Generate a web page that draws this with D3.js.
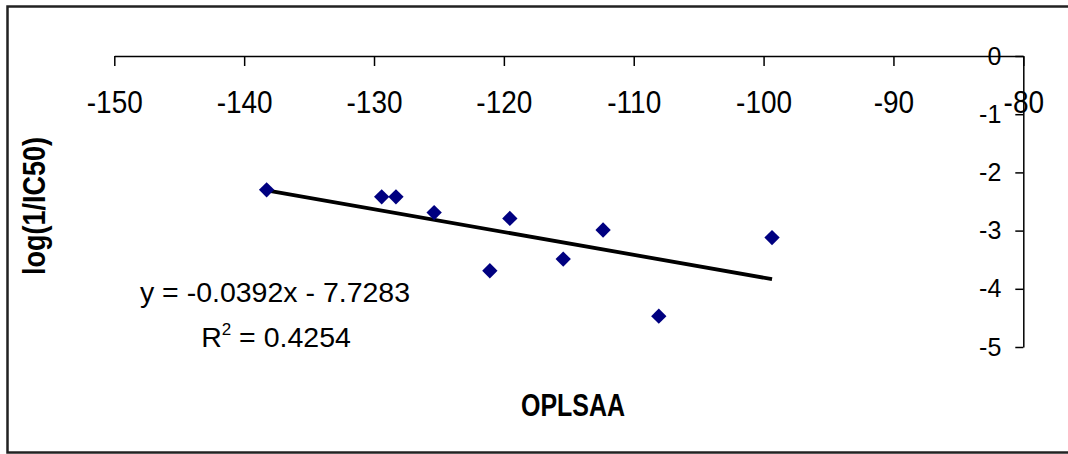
<!DOCTYPE html>
<html>
<head>
<meta charset="utf-8">
<script src="https://cdn.jsdelivr.net/npm/d3@7"></script>
<style>
  body { margin: 0; background: #fff; }
  svg { display: block; }
  text { font-family: "Liberation Sans", Arial, sans-serif; fill: #000; }
</style>
</head>
<body>
<div class="container"></div>
<script>
// OPLSAA vs log(1/IC50), linear trend

var width = 1068;
var height = 454;

var opls = [-138.27, -129.41, -128.31, -125.37, -121.08, -119.54, -115.43, -112.36, -108.07, -99.35];
var logIC50 = [-2.30, -2.42, -2.42, -2.69, -3.69, -2.79, -3.49, -2.99, -4.47, -3.12];
var xTicks = [-150, -140, -130, -120, -110, -100, -90, -80];
var yTicks = [0, -1, -2, -3, -4, -5];
var slope = -0.0392;
var intercept = -7.7283;
var eqLabel = 'y = -0.0392x - 7.7283';
var r2Value = '0.4254';

var translate = function(x, y) {
    return 'translate(' + x + ',' + y + ')';
};

// plain hyphen minus, like the original
var fmt = function(d) { return String(d); };

var draw = function() {
    var svg = d3.select('.container').append('svg')
        .attr('width', width)
        .attr('height', height);

    // outer chart frame (right edge runs off the page)
    svg.append('rect')
        .attr('x', 7.5).attr('y', 6.5)
        .attr('width', 1080).attr('height', 446)
        .attr('fill', 'none')
        .attr('stroke', '#222')
        .attr('stroke-width', 2.5);

    var x = d3.scaleLinear().domain([-150, -80]).range([114.3, 1023.3]);
    var y = d3.scaleLinear().domain([0, -5]).range([56, 347]);

    var xAxis = svg.append('g')
        .attr('transform', translate(0, y(0)))
        .call(d3.axisBottom(x).tickValues(xTicks).tickFormat(fmt)
            .tickSize(10).tickSizeOuter(0).tickPadding(22));
    xAxis.selectAll('text')
        .style('font-size', '28px')
        .attr('dy', '0.71em')
        .attr('transform', 'scale(1,1.1)');

    var yAxis = svg.append('g')
        .attr('transform', translate(x(-80), 0))
        .call(d3.axisLeft(y).tickValues(yTicks).tickFormat(fmt)
            .tickSize(8).tickSizeOuter(0).tickPadding(14));
    yAxis.selectAll('text')
        .style('font-size', '25px');

    svg.selectAll('.domain, .tick line')
        .attr('stroke', '#000')
        .attr('stroke-width', 1.5);

    // trend line across the data range
    var xExt = d3.extent(opls);
    var trend = xExt.map(function(v) { return [v, slope * v + intercept]; });
    svg.append('path')
        .datum(trend)
        .attr('d', d3.line().x(function(d) { return x(d[0]); }).y(function(d) { return y(d[1]); }))
        .attr('stroke', '#000')
        .attr('stroke-width', 3.8)
        .attr('fill', 'none');

    var sym = d3.symbol().type(d3.symbolDiamond2).size(150);
    svg.selectAll('.pt')
        .data(opls)
        .enter()
        .append('path')
        .attr('class', 'pt')
        .attr('d', sym)
        .attr('transform', function(d, i) { return translate(x(d), y(logIC50[i])); })
        .attr('fill', '#000080');

    svg.append('text')
        .attr('x', 275).attr('y', 302)
        .attr('text-anchor', 'middle')
        .style('font-size', '28.5px')
        .text(eqLabel);

    var r2 = svg.append('text')
        .attr('x', 276).attr('y', 347)
        .attr('text-anchor', 'middle')
        .style('font-size', '28.5px');
    r2.append('tspan').text('R');
    r2.append('tspan').attr('dy', -12).style('font-size', '17px').text('2');
    r2.append('tspan').attr('dy', 12).text(' = ' + r2Value);

    svg.append('text')
        .attr('transform', translate(573, 416) + ' scale(1,1.25)')
        .attr('text-anchor', 'middle')
        .style('font-size', '25px')
        .style('font-weight', 'bold')
        .text('OPLSAA');

    svg.append('text')
        .attr('transform', translate(45, 206) + ' rotate(-90) scale(1,1.15)')
        .attr('text-anchor', 'middle')
        .style('font-size', '27px')
        .style('font-weight', 'bold')
        .text('log(1/IC50)');
};

window.onload = draw;
</script>
</body>
</html>
